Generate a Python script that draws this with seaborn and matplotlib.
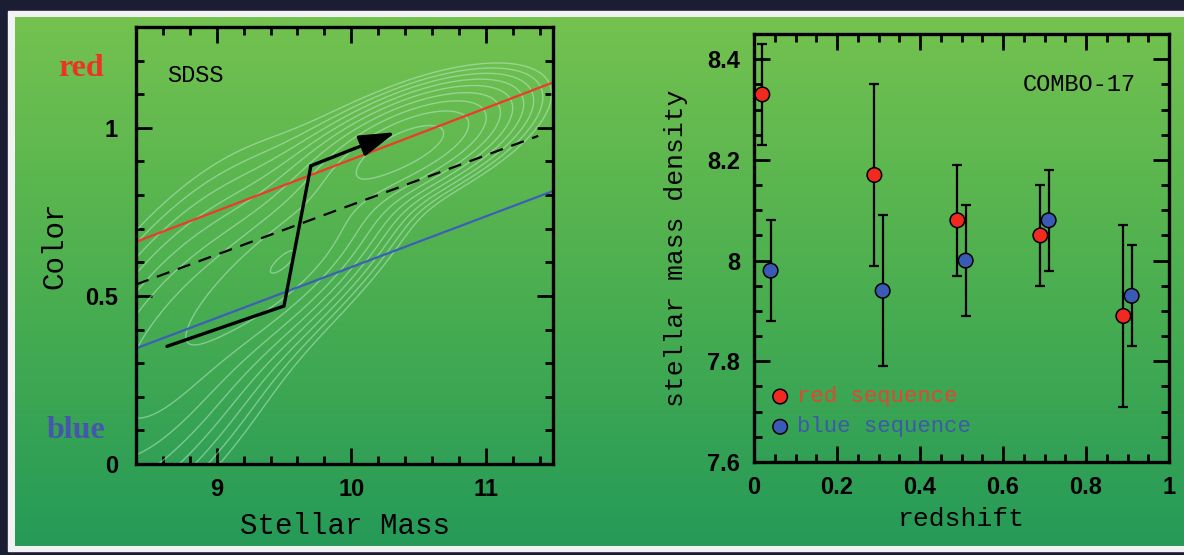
import numpy as np
import pandas as pd
import matplotlib.pyplot as plt
import seaborn as sns
from matplotlib.patches import Rectangle
from matplotlib.colors import LinearSegmentedColormap

# ---- left panel (SDSS colour-mass diagram) ----
red_line_mass = [8.4, 11.5]
red_line_color = [0.661, 1.135]
blue_line_mass = [8.4, 11.5]
blue_line_color = [0.344, 0.812]
divider_mass = [8.4, 11.39]
divider_color = [0.534, 0.976]
track_mass = [8.63, 9.50, 9.70]
track_color = [0.35, 0.47, 0.887]
arrow_tip = (10.33, 0.987)

# rough density model behind the pale contours:
# red sequence, blue cloud, low-mass population
comp_mass = [10.45, 9.6, 8.65]
comp_color = [0.95, 0.63, 0.32]
comp_slope = [0.15, 0.30, 0.40]
comp_sig_along = [0.42, 0.45, 0.60]
comp_sig_across = [0.075, 0.11, 0.20]
comp_weight = [1.0, 0.75, 0.5]

# ---- right panel (COMBO-17 stellar mass density) ----
red_z = [0.02, 0.29, 0.49, 0.69, 0.89]
red_rho = [8.33, 8.17, 8.08, 8.05, 7.89]
red_err = [0.10, 0.18, 0.11, 0.10, 0.18]
blue_z = [0.04, 0.31, 0.51, 0.71, 0.91]
blue_rho = [7.98, 7.94, 8.00, 8.08, 7.93]
blue_err = [0.10, 0.15, 0.11, 0.10, 0.10]

RED = "#f02a1e"
BLUE = "#3a5bb5"
MONO = "Liberation Mono"
TICKFONT = "Liberation Sans"
TICKSIZE = 17

sns.set_theme(style="ticks")
plt.rcParams["font.family"] = ["Liberation Sans", "DejaVu Sans"]

W, H = 1184, 555
fig = plt.figure(figsize=(W / 100, H / 100), dpi=100)
fig.patch.set_facecolor("#1b1e33")

# paper-like green background with a white edge
bg = fig.add_axes([0, 0, 1, 1], zorder=-10)
bg.set_xlim(0, W)
bg.set_ylim(H, 0)
bg.axis("off")
bg.add_patch(Rectangle((8, 11), W + 10, 540, color="#f2f2f2", zorder=0))
green = LinearSegmentedColormap.from_list("g", ["#74c24f", "#4caf50", "#259a58"])
bg.imshow(np.linspace(0, 1, 256)[:, None], cmap=green, aspect="auto",
          extent=(15, W + 5, 546, 17), zorder=1)


def style_axes(ax):
    ax.set_facecolor("none")
    for s in ax.spines.values():
        s.set_color("black")
        s.set_linewidth(2.4)
    ax.tick_params(which="both", direction="in", top=True, right=True,
                   color="black", width=2.0)
    ax.tick_params(which="major", length=11.5, pad=10)
    ax.tick_params(which="minor", length=6)


# ---------------- left panel ----------------
axl = fig.add_axes([136 / W, 1 - 464 / H, 417 / W, 437 / H])
style_axes(axl)
axl.tick_params(axis="y", which="major", pad=13)

mm, cc = np.meshgrid(np.linspace(8.3, 11.6, 300), np.linspace(-0.1, 1.4, 300))
dens = np.zeros_like(mm)
for m0, c0, k, sa, sx, w in zip(comp_mass, comp_color, comp_slope,
                                comp_sig_along, comp_sig_across, comp_weight):
    ux, uy = 1 / np.hypot(1, k), k / np.hypot(1, k)
    dm, dc = mm - m0, cc - c0
    along = dm * ux + dc * uy
    across = -dm * uy + dc * ux
    dens += w * np.exp(-0.5 * (along / sa) ** 2 - 0.5 * (across / sx) ** 2)
dens /= dens.max()
axl.contour(mm, cc, dens, levels=np.geomspace(0.04, 0.8, 9),
            colors="#c4ecd0", linewidths=1.0, alpha=0.5)

sns.lineplot(x=red_line_mass, y=red_line_color, ax=axl, color="#ee3a2a", lw=1.6)
sns.lineplot(x=blue_line_mass, y=blue_line_color, ax=axl, color="#3c5fb8", lw=1.6)
sns.lineplot(x=divider_mass, y=divider_color, ax=axl, color="black", lw=1.6,
             linestyle=(0, (6, 4)))
sns.lineplot(x=track_mass, y=track_color, ax=axl, color="black", lw=2.4,
             sort=False, solid_joinstyle="miter")
axl.annotate("", xy=arrow_tip, xytext=(track_mass[-1], track_color[-1]),
             arrowprops=dict(arrowstyle="-|>,head_length=1.1,head_width=0.33",
                             mutation_scale=20, color="black", lw=2.4,
                             shrinkA=0, shrinkB=0))

axl.set_xlim(8.4, 11.5)
axl.set_ylim(0, 1.3)
axl.set_xticks([9, 10, 11], ["9", "10", "11"], fontsize=TICKSIZE, fontweight="bold",
               fontfamily=TICKFONT, color="black")
axl.set_yticks([0, 0.5, 1], ["0", "0.5", "1"], fontsize=TICKSIZE, fontweight="bold",
               fontfamily=TICKFONT, color="black")
axl.set_xticks(np.arange(8.4, 11.51, 0.2), minor=True)
axl.set_yticks(np.arange(0, 1.31, 0.1), minor=True)
axl.set_xlabel("Stellar Mass", fontsize=21, fontfamily=MONO, color="black", labelpad=8)
axl.set_ylabel("Color", fontsize=21, fontfamily=MONO, color="black", labelpad=12)
axl.text(0.074, 0.89, "SDSS", transform=axl.transAxes, fontsize=17,
         fontfamily=MONO, color="black", va="center", ha="left")

fig.text(81 / W, 1 - 68 / H, "red", color="#ec3326", fontsize=23,
         fontweight="bold", family="Liberation Serif", ha="center", va="center")
fig.text(76 / W, 1 - 430 / H, "blue", color="#4656ad", fontsize=23,
         fontweight="bold", family="Liberation Serif", ha="center", va="center")

# ---------------- right panel ----------------
axr = fig.add_axes([754 / W, 1 - 462 / H, 415 / W, 428 / H])
style_axes(axr)

axr.errorbar(red_z, red_rho, yerr=red_err, fmt="none", ecolor="black",
             elinewidth=1.6, capsize=3.5, capthick=1.6, zorder=2)
axr.errorbar(blue_z, blue_rho, yerr=blue_err, fmt="none", ecolor="black",
             elinewidth=1.6, capsize=3.5, capthick=1.6, zorder=2)

pts = pd.DataFrame({
    "z": red_z + blue_z,
    "rho": red_rho + blue_rho,
    "seq": ["red"] * len(red_z) + ["blue"] * len(blue_z),
})
sns.scatterplot(data=pts, x="z", y="rho", hue="seq",
                palette={"red": RED, "blue": BLUE}, s=110, edgecolor="black",
                linewidth=1.1, ax=axr, legend=False, zorder=3)

# hand-made legend as in the original
key = pd.DataFrame({"z": [0.063, 0.063], "rho": [7.73, 7.67], "seq": ["red", "blue"]})
sns.scatterplot(data=key, x="z", y="rho", hue="seq",
                palette={"red": RED, "blue": BLUE}, s=110, edgecolor="black",
                linewidth=1.1, ax=axr, legend=False, zorder=3)
axr.text(0.103, 7.73, "red sequence", color="#e2472f", fontsize=16,
         fontfamily=MONO, va="center")
axr.text(0.103, 7.67, "blue sequence", color="#3c5aa8", fontsize=16,
         fontfamily=MONO, va="center")
axr.text(0.92, 0.883, "COMBO-17", transform=axr.transAxes, fontsize=17,
         fontfamily=MONO, color="black", ha="right", va="center")

axr.set_xlim(0, 1)
axr.set_ylim(7.6, 8.45)
axr.set_xticks([0, 0.2, 0.4, 0.6, 0.8, 1],
               ["0", "0.2", "0.4", "0.6", "0.8", "1"], fontsize=TICKSIZE,
               fontweight="bold", fontfamily=TICKFONT, color="black")
axr.set_yticks([7.6, 7.8, 8.0, 8.2, 8.4], ["7.6", "7.8", "8", "8.2", "8.4"],
               fontsize=TICKSIZE, fontweight="bold", fontfamily=TICKFONT, color="black")
axr.set_xticks(np.arange(0, 1.001, 0.05), minor=True)
axr.set_yticks(np.arange(7.6, 8.451, 0.05), minor=True)
axr.set_xlabel("redshift", fontsize=19, fontfamily=MONO, color="black", labelpad=6)
axr.set_ylabel("stellar mass density", fontsize=19, fontfamily=MONO,
               color="black", labelpad=14)

fig.savefig("out.png", dpi=100, facecolor=fig.get_facecolor())
